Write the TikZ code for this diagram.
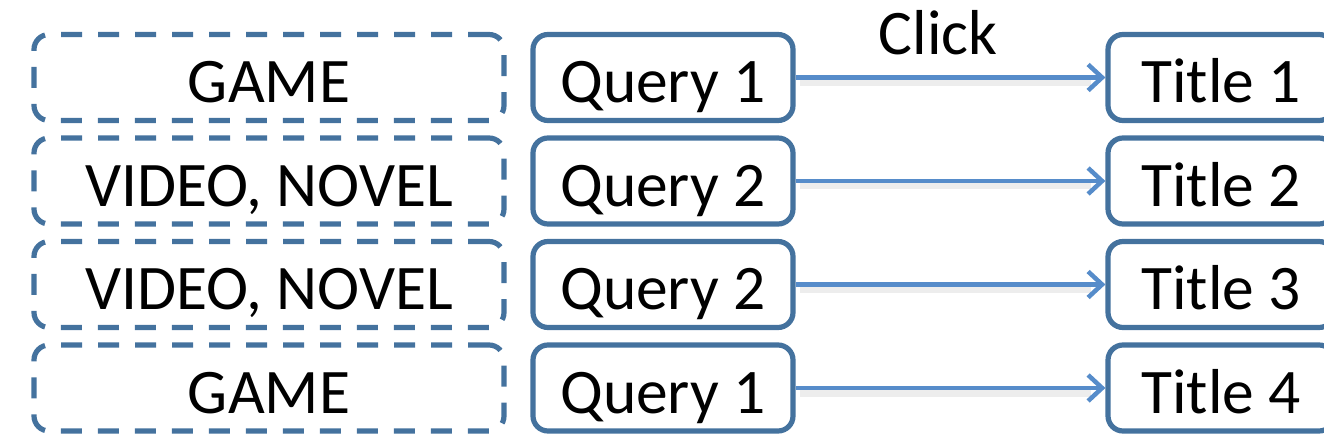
\documentclass[tikz,border=0pt]{standalone}
\usepackage{fontspec}
\setmainfont{Carlito}
\usetikzlibrary{arrows.meta}
\definecolor{boxblue}{RGB}{68,114,158}
\definecolor{arrowblue}{RGB}{86,140,202}
\tikzset{
  every node/.style={font=\fontsize{63.5}{76}\selectfont, text=black},
  basebox/.style={draw=boxblue, line width=5.2pt, rounded corners=15pt,
    minimum height=86pt, inner sep=0pt, text height=51pt, text depth=0pt},
  catbox/.style={basebox, dash pattern=on 21pt off 16pt, minimum width=470pt},
  querybox/.style={basebox, minimum width=260pt},
  titlebox/.style={basebox, minimum width=226pt},
  link/.style={draw=arrowblue, line width=4.5pt,
    -{Straight Barb[length=14pt, width=26pt, line width=4.5pt]}},
  linkshadow/.style={draw=black, opacity=0.07, line width=7pt},
}
\begin{document}
\begin{tikzpicture}[x=1pt, y=-1pt]
\useasboundingbox (0,0) rectangle (1324,443);
\clip (0,0) rectangle (1324,443);

% category boxes (dashed)
\node[catbox] (c1) at (269,77.5) {GAME};
\node[catbox] (c2) at (269,181) {VIDEO, NOVEL};
\node[catbox] (c3) at (269,284.5) {VIDEO, NOVEL};
\node[catbox] (c4) at (269,388) {GAME};

% queries
\node[querybox] (q1) at (663,77.5) {Query 1};
\node[querybox] (q2) at (663,181) {Query 2};
\node[querybox] (q3) at (663,284.5) {Query 2};
\node[querybox] (q4) at (663,388) {Query 1};

% clicked titles
\node[titlebox] (t1) at (1221,77.5) {Title 1};
\node[titlebox] (t2) at (1221,181) {Title 2};
\node[titlebox] (t3) at (1221,284.5) {Title 3};
\node[titlebox] (t4) at (1221,388) {Title 4};

% click links with a soft drop shadow
\foreach \i in {1,...,4}{
  \draw[linkshadow] ([xshift=4pt,yshift=-5pt]q\i.east) -- ([xshift=-14pt,yshift=-5pt]t\i.west);
  \draw[link] (q\i.east) -- (t\i.west);
}

\node[anchor=base] (click) at (938,55) {Click};
\end{tikzpicture}
\end{document}
